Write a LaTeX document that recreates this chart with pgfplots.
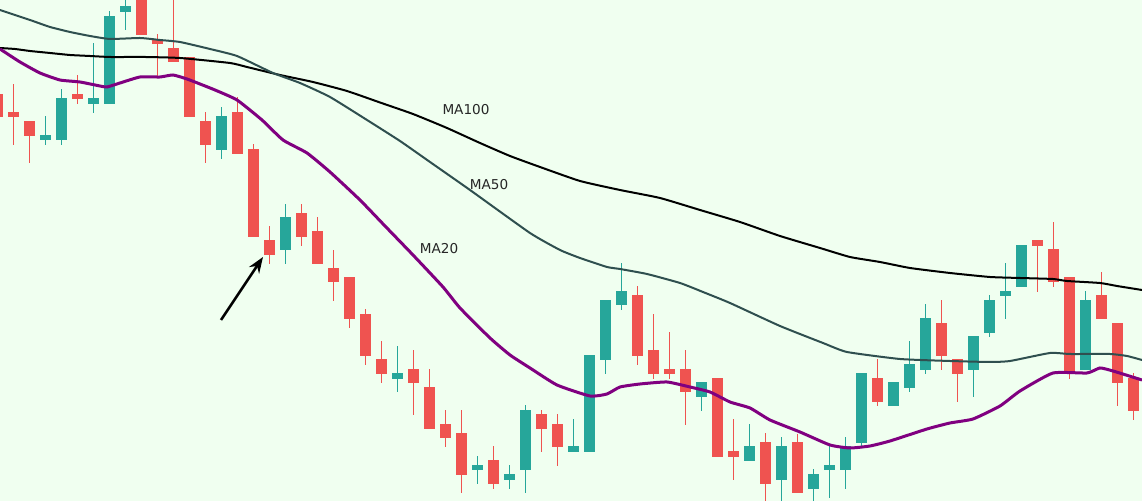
\documentclass[border=0pt]{standalone}
\usepackage{fontspec}
\setmainfont{DejaVu Sans}
\usepackage{pgfplots}
\usepackage{pgfplotstable}
\pgfplotsset{compat=1.18}
\usetikzlibrary{arrows.meta}
\definecolor{bg}{HTML}{F0FFF0}
\definecolor{up}{HTML}{26A69A}
\definecolor{down}{HTML}{EF5350}
\definecolor{ma20}{HTML}{800080}
\definecolor{ma50}{HTML}{2F4F4F}
\definecolor{ma100}{HTML}{000000}

% candles: k = index, bt/bb = body top/bottom, wt/wb = wick top/bottom (screen levels, larger = lower)
\pgfplotstableread{
k bt bb wt wb
2 135 140 116 145
3 98 140 89 145
5 98 104 43 113
6 16 104 11 104
7 6 12 -5 30
13 116 150 107 159
17 217 250 204 264
24 373 379 346 392
29 465 470 456 484
31 474 480 465 489
32 410 470 405 493
35 446 452 419 452
36 355 452 355 452
37 300 360 300 374
38 291 305 263 310
43 382 397 382 411
46 446 461 424 461
48 446 480 437 503
50 474 489 469 503
51 465 470 444 498
52 446 470 437 489
53 373 443 373 447
55 382 406 382 406
56 364 388 341 392
57 318 370 304 374
60 336 370 336 397
61 300 333 295 337
62 291 296 263 319
63 245 287 245 287
67 300 370 291 370
}\upcandles

\pgfplotstableread{
k bt bb wt wb
-1 94 117 88 120
0 112 117 84 145
1 121 136 121 163
4 94 99 75 104
8 -2 35 -5 35
9 40 44 34 77
10 48 62 -5 62
11 57 117 57 117
12 121 145 112 163
14 112 154 97 154
15 149 237 144 237
16 240 255 226 264
18 213 237 204 246
19 231 264 217 264
20 268 282 250 301
21 277 319 277 328
22 314 356 309 365
23 359 374 341 383
25 369 383 350 415
26 387 429 369 429
27 424 438 410 447
28 433 475 410 493
30 460 484 446 489
33 414 429 410 452
34 424 447 414 466
39 295 356 286 365
40 350 374 314 379
41 369 374 332 379
42 369 392 350 425
44 378 457 378 457
45 451 457 419 480
47 442 484 433 503
49 442 493 434 493
54 378 402 359 406
58 323 356 300 370
59 359 374 359 402
64 240 246 240 292
65 249 282 222 287
66 277 373 277 379
68 295 319 272 319
69 323 383 323 406
70 378 411 373 420
}\downcandles

\begin{document}
\begin{tikzpicture}
\begin{axis}[
  scale only axis,
  width=571pt, height=250.5pt,
  xmin=0, xmax=1142, ymin=0, ymax=501,
  y dir=reverse,
  ticks=none,
  axis line style={draw=none},
  axis background/.style={fill=bg},
  clip=true,
  candle/.style 2 args={color=#1, only marks, no markers, mark size=0pt,
    error bars/.cd, y dir=both, y explicit, error mark=none,
    error bar style={line width=#2, color=#1}},
]
% wicks
\addplot[candle={up}{0.6pt}]
  table[x expr=13.5+16*\thisrow{k}, y expr=(\thisrow{wt}+\thisrow{wb})/2,
        y error expr=(\thisrow{wb}-\thisrow{wt})/2] {\upcandles};
\addplot[candle={down}{0.6pt}]
  table[x expr=13.5+16*\thisrow{k}, y expr=(\thisrow{wt}+\thisrow{wb})/2,
        y error expr=(\thisrow{wb}-\thisrow{wt})/2] {\downcandles};
% bodies
\addplot[candle={up}{5.5pt}]
  table[x expr=13.5+16*\thisrow{k}, y expr=(\thisrow{bt}+\thisrow{bb})/2,
        y error expr=(\thisrow{bb}-\thisrow{bt})/2] {\upcandles};
\addplot[candle={down}{5.5pt}]
  table[x expr=13.5+16*\thisrow{k}, y expr=(\thisrow{bt}+\thisrow{bb})/2,
        y error expr=(\thisrow{bb}-\thisrow{bt})/2] {\downcandles};

% MA100
\addplot[ma100, line width=1pt, smooth, tension=0.3] coordinates {
(0,48) (15,49) (30,51) (50,53) (70,55) (90,56) (110,57) (145,57) (180,58)
(230,63) (247,67) (280,75) (313,82) (347,91) (380,102.5) (413,114) (447,128)
(480,143) (510,156) (540,167) (580,181) (620,190) (660,198) (700,210) (740,222)
(780,236) (820,248) (850,257) (880,262) (910,268) (950,273) (990,277) (1020,278)
(1053,279) (1067,281) (1100,283) (1117,286) (1142,290)};
% MA50
\addplot[ma50, line width=1pt, smooth, tension=0.3] coordinates {
(0,10) (30,20) (50,27) (70,32) (90,36) (110,39) (140,38) (160,40) (180,42) (210,49)
(237,56) (273,73) (300,83) (330,97) (367,120) (400,141) (430,162) (470,190)
(530,233) (560,250) (580,258) (607,267) (620,269) (647,274) (680,283)
(703,292) (730,303) (780,326) (823,343) (847,352) (900,359) (950,361) (990,362)
(1010,361) (1050,353) (1070,354) (1110,354) (1127,356) (1142,360)};
% MA20
\addplot[ma20, line width=1.5pt, smooth, tension=0.3] coordinates {
(0,49) (20,62) (40,73) (60,80) (80,82) (100,86) (107,87) (120,83) (140,77) (160,77)
(173,75) (187,79) (200,84) (215,90) (237,100) (262,120) (283,140) (307,153) (330,172)
(360,200) (385,226) (413,255) (443,287) (460,308) (490,338) (510,355)
(530,368) (557,385) (590,396) (607,394) (620,387) (640,384) (667,382) (690,387)
(710,392) (730,402) (750,408) (770,420) (800,432) (830,445) (850,448) (870,446)
(890,441) (927,429) (950,423) (973,419) (1000,406) (1020,391) (1053,373) (1087,373)
(1100,368) (1113,371) (1142,380)};

\node[font=\fontsize{6.8}{8}\selectfont, text=black!85] at (axis cs:466,110) {MA100};
\node[font=\fontsize{6.8}{8}\selectfont, text=black!85] at (axis cs:489,185) {MA50};
\node[font=\fontsize{6.8}{8}\selectfont, text=black!85] at (axis cs:439,249) {MA20};
\draw[line width=1.3pt, -{Stealth[length=8pt,width=6pt]}] (axis cs:221,320) -- (axis cs:263,257);
\end{axis}
\end{tikzpicture}
\end{document}
